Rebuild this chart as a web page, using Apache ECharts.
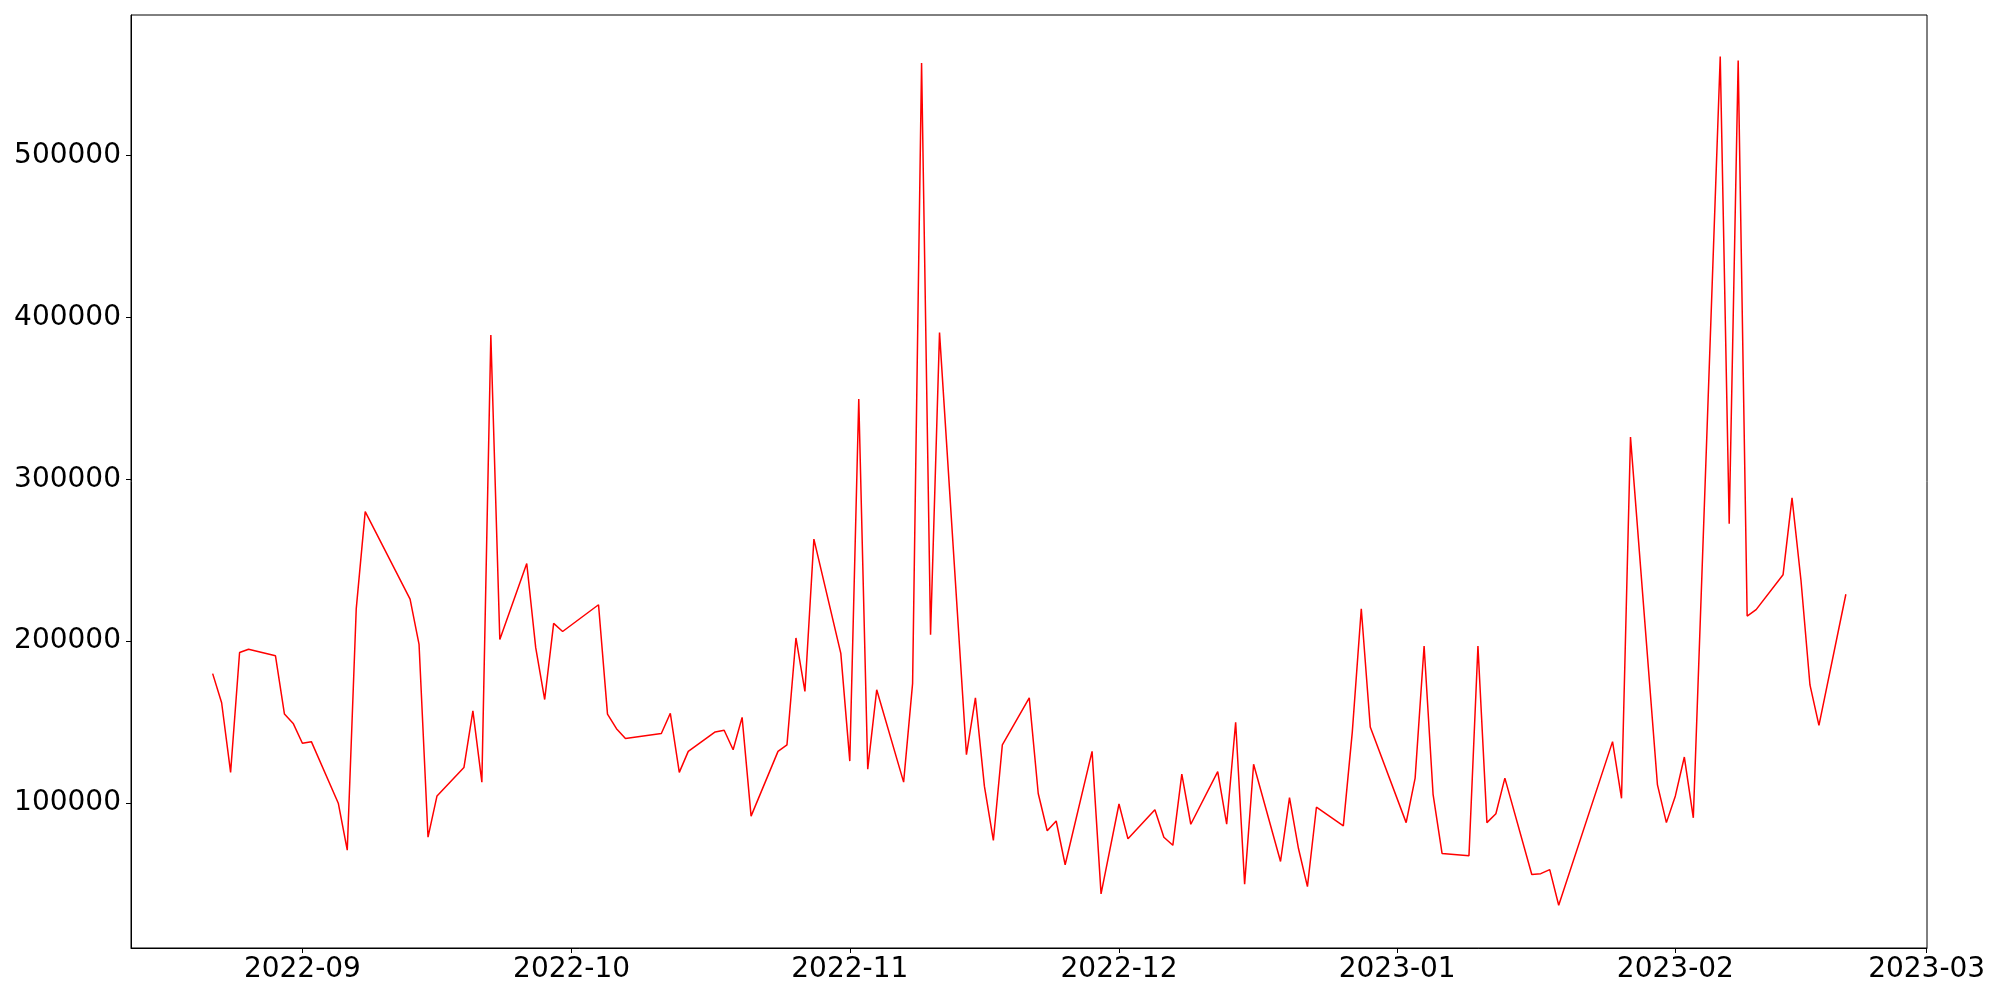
<!DOCTYPE html>
<html>
<head>
<meta charset="utf-8">
<script src="https://cdn.jsdelivr.net/npm/echarts@6/dist/echarts.min.js"></script>
<style>
  html, body { margin: 0; padding: 0; background: #fff; }
  #chart { width: 2000px; height: 1000px; }
</style>
</head>
<body>
<div id="chart"></div>
<script>
// ---- data ----
const dates = [
  '2022-08-22','2022-08-23','2022-08-24','2022-08-25','2022-08-26',
  '2022-08-29','2022-08-30','2022-08-31','2022-09-01','2022-09-02',
  '2022-09-05','2022-09-06','2022-09-07','2022-09-08',
  '2022-09-13','2022-09-14','2022-09-15','2022-09-16',
  '2022-09-19','2022-09-20','2022-09-21','2022-09-22','2022-09-23',
  '2022-09-26','2022-09-27','2022-09-28','2022-09-29','2022-09-30',
  '2022-10-04','2022-10-05','2022-10-06','2022-10-07',
  '2022-10-11','2022-10-12','2022-10-13','2022-10-14',
  '2022-10-17','2022-10-18','2022-10-19','2022-10-20','2022-10-21',
  '2022-10-24','2022-10-25','2022-10-26','2022-10-27','2022-10-28',
  '2022-10-31','2022-11-01','2022-11-02','2022-11-03','2022-11-04',
  '2022-11-07','2022-11-08','2022-11-09','2022-11-10','2022-11-11',
  '2022-11-14','2022-11-15','2022-11-16','2022-11-17','2022-11-18',
  '2022-11-21','2022-11-22','2022-11-23','2022-11-24','2022-11-25',
  '2022-11-28','2022-11-29','2022-12-01','2022-12-02',
  '2022-12-05','2022-12-06','2022-12-07','2022-12-08','2022-12-09',
  '2022-12-12','2022-12-13','2022-12-14','2022-12-15','2022-12-16',
  '2022-12-19','2022-12-20','2022-12-21','2022-12-22','2022-12-23',
  '2022-12-26','2022-12-27','2022-12-28','2022-12-29',
  '2023-01-02','2023-01-03','2023-01-04','2023-01-05','2023-01-06',
  '2023-01-09','2023-01-10','2023-01-11','2023-01-12','2023-01-13',
  '2023-01-16','2023-01-17','2023-01-18','2023-01-19',
  '2023-01-25','2023-01-26','2023-01-27',
  '2023-01-30','2023-01-31','2023-02-01','2023-02-02','2023-02-03',
  '2023-02-06','2023-02-07','2023-02-08','2023-02-09','2023-02-10',
  '2023-02-13','2023-02-14','2023-02-15','2023-02-16','2023-02-17',
  '2023-02-20'
];
const values = [
  180000,162000,119000,193000,195000,
  191000,155000,149000,137000,138000,
  100000,71000,220000,280000,
  226000,198000,79000,104500,
  122000,157000,113000,389000,201000,
  248000,196000,164000,211000,206000,
  222500,155000,146000,140000,
  143000,155500,119000,132000,
  144000,145000,133000,153000,92000,
  132000,136000,202000,169000,263000,
  192500,126000,349500,121000,170000,
  113000,174000,557000,204000,390500,
  130000,165000,110500,77000,136000,
  165000,106000,83000,89000,62000,
  132000,44000,99500,78000,
  96000,79000,74000,118000,87000,
  119500,87000,150000,50000,124000,
  64000,103500,72000,48500,97500,
  86000,144000,220000,147000,
  88000,115500,197000,105500,69000,
  67500,197000,88000,93500,115500,
  56000,56500,59000,37000,
  138000,103000,326000,
  111500,88000,104500,128500,91000,
  561000,272500,558500,215500,219500,
  241000,288500,237500,173000,148000,
  229000
];
const xTickLabels = ['2022-09','2022-10','2022-11','2022-12','2023-01','2023-02','2023-03'];
const yTickValues = [100000, 200000, 300000, 400000, 500000];

// ---- build chart ----
function dayStamp(s) {
  const p = s.split('-');
  return Date.UTC(+p[0], +p[1] - 1, p.length > 2 ? +p[2] : 1);
}
const xTickValues = xTickLabels.map(dayStamp);
const seriesData = dates.map((d, i) => [dayStamp(d), values[i]]);

function pad2(n) { return (n < 10 ? '0' : '') + n; }

const chart = echarts.init(document.getElementById('chart'), null, { renderer: 'canvas' });
const font = 'DejaVu Sans';
const HOUR = 3600 * 1000;
chart.setOption({
  animation: false,
  backgroundColor: '#ffffff',
  grid: {
    left: 131, right: 73, top: 15, bottom: 52,
    show: true, borderColor: '#000000', borderWidth: 1, backgroundColor: 'transparent',
    containLabel: false
  },
  xAxis: {
    type: 'value',
    scale: true,
    min: Date.UTC(2022, 7, 12) + 21.6 * HOUR,
    max: Date.UTC(2023, 2, 1) + 1 * HOUR,
    axisLine: { show: true, onZero: false, lineStyle: { color: '#000000', width: 1 } },
    axisTick: { show: true, length: 5, lineStyle: { color: '#000000', width: 1 }, customValues: xTickValues },
    axisLabel: {
      show: true, color: '#000000', fontSize: 28, fontFamily: font, margin: 8,
      customValues: xTickValues,
      formatter: function (v) { const d = new Date(v); return d.getUTCFullYear() + '-' + pad2(d.getUTCMonth() + 1); }
    },
    splitLine: { show: false },
    minorTick: { show: false }
  },
  yAxis: {
    type: 'value',
    min: 10600,
    max: 586600,
    axisLine: { show: true, onZero: false, lineStyle: { color: '#000000', width: 1 } },
    axisTick: { show: true, length: 5, lineStyle: { color: '#000000', width: 1 }, customValues: yTickValues },
    axisLabel: {
      show: true, color: '#000000', fontSize: 28, fontFamily: font, margin: 10,
      customValues: yTickValues,
      formatter: function (v) { return String(v); }
    },
    splitLine: { show: false }
  },
  series: [{
    type: 'line',
    data: seriesData,
    showSymbol: false,
    symbol: 'none',
    lineStyle: { color: '#ff0000', width: 1.5 },
    itemStyle: { color: '#ff0000' }
  }]
});
</script>
</body>
</html>
